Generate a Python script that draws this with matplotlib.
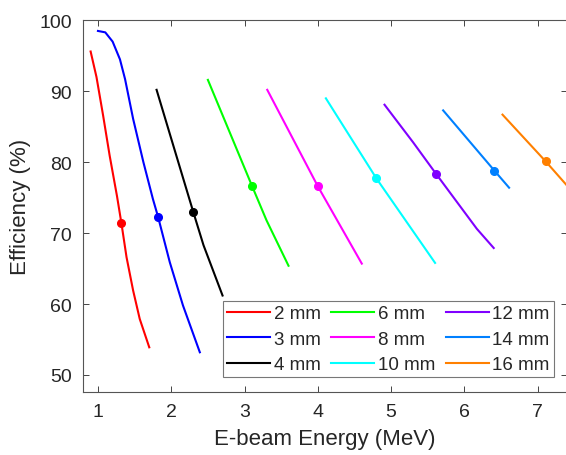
import matplotlib
matplotlib.use("Agg")
import matplotlib.pyplot as plt

plt.rcParams['font.family'] = ['Liberation Sans', 'DejaVu Sans']

labels = ["2 mm", "3 mm", "4 mm", "6 mm", "8 mm", "10 mm", "12 mm", "14 mm", "16 mm"]
colors = ["#FF0000", "#0000FF", "#000000", "#00FF00", "#FF00FF", "#00FFFF",
          "#8000FF", "#0080FF", "#FF8000"]

x_2mm = [0.90, 0.98, 1.07, 1.16, 1.26, 1.32, 1.39, 1.48, 1.57, 1.70]
y_2mm = [95.6, 92.0, 86.6, 80.9, 75.2, 71.4, 66.6, 61.9, 57.9, 53.9]
x_3mm = [1.00, 1.10, 1.20, 1.30, 1.37, 1.48, 1.62, 1.75, 1.82, 1.98, 2.16, 2.39]
y_3mm = [98.5, 98.3, 97.0, 94.5, 91.7, 86.1, 80.0, 74.8, 72.3, 65.9, 59.8, 53.2]
x_4mm = [1.80, 1.98, 2.30, 2.44, 2.70]
y_4mm = [90.2, 84.0, 73.0, 68.3, 61.2]
x_6mm = [2.50, 3.10, 3.30, 3.60]
y_6mm = [91.6, 76.7, 71.8, 65.4]
x_8mm = [3.31, 4.00, 4.60]
y_8mm = [90.2, 76.6, 65.7]
x_10mm = [4.11, 4.80, 5.60]
y_10mm = [89.0, 77.7, 65.8]
x_12mm = [4.91, 5.30, 5.61, 6.17, 6.40]
y_12mm = [88.1, 82.8, 78.4, 70.6, 67.9]
x_14mm = [5.71, 6.41, 6.61]
y_14mm = [87.3, 78.8, 76.4]
x_16mm = [6.52, 7.11, 7.40]
y_16mm = [86.7, 80.1, 76.7]

marker_x = [1.32, 1.82, 2.30, 3.10, 4.00, 4.80, 5.61, 6.41, 7.11]
marker_y = [71.4, 72.3, 73.0, 76.7, 76.6, 77.7, 78.4, 78.8, 80.1]

xs = [x_2mm, x_3mm, x_4mm, x_6mm, x_8mm, x_10mm, x_12mm, x_14mm, x_16mm]
ys = [y_2mm, y_3mm, y_4mm, y_6mm, y_8mm, y_10mm, y_12mm, y_14mm, y_16mm]

xticks = [1, 2, 3, 4, 5, 6, 7]
yticks = [50, 60, 70, 80, 90, 100]

fig = plt.figure(figsize=(5.66, 4.56), dpi=100)
ax = fig.add_axes([83.3 / 566, 1 - 393 / 456, (567 - 83.3) / 566, (393 - 21.3) / 456])

tc = "#262626"
for x, y, c, lab in zip(xs, ys, colors, labels):
    ax.plot(x, y, color=c, lw=1.5, label=lab, solid_joinstyle='round')
for mx, my, c in zip(marker_x, marker_y, colors):
    ax.plot([mx], [my], 'o', color=c, ms=5.5, mec=c)

ax.set_xlim(0.8, 7.4)
ax.set_ylim(47.6, 100)
ax.set_xticks(xticks)
ax.set_yticks(yticks)
ax.tick_params(direction='in', top=True, right=True, length=4, width=0.6,
               color=tc, labelsize=14, labelcolor=tc, pad=8)
for s in ax.spines.values():
    s.set_color("#555555")
    s.set_linewidth(0.8)

ax.set_xlabel("E-beam Energy (MeV)", fontsize=16, color=tc, labelpad=6)
ax.set_ylabel("Efficiency (%)", fontsize=16, color=tc, labelpad=6)

leg = ax.legend(ncol=3, loc='lower right', bbox_to_anchor=(0.973, 0.0395),
                borderaxespad=0, fontsize=13.5, frameon=True, fancybox=False,
                handlelength=2.3, handletextpad=0.2, columnspacing=0.55,
                labelspacing=0.45, borderpad=0.22)
leg.get_frame().set_edgecolor("#555555")
leg.get_frame().set_linewidth(0.8)
for t in leg.get_texts():
    t.set_color(tc)

fig.savefig("out.png", dpi=100)
